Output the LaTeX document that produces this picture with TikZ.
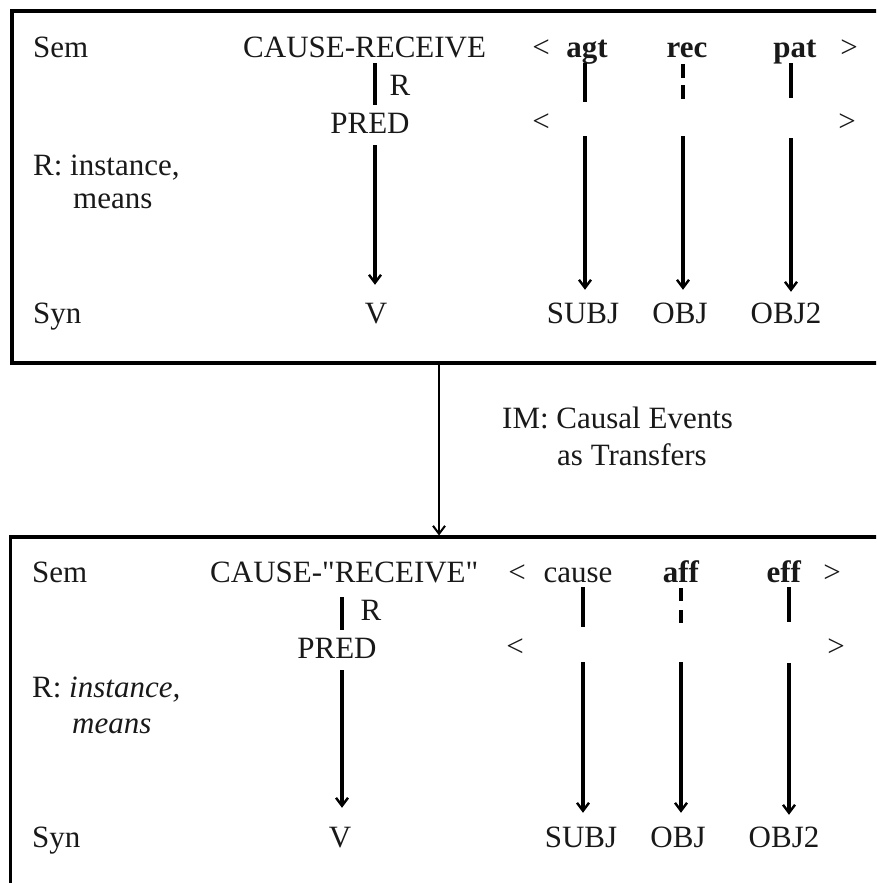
\documentclass[tikz,border=0pt]{standalone}
\usepackage{fontspec}
\setmainfont{Liberation Serif}
% same face without the TeX input mapping, so that " stays a straight quote
\newfontfamily\rawserif{Liberation Serif}[Ligatures=TeXOff]
\usetikzlibrary{arrows.meta}
\newcommand{\sq}{{\rawserif"}}
\begin{document}
\begin{tikzpicture}[x=1pt,y=-1pt,
  lbl/.style={inner sep=0pt, text height=21pt, text depth=0pt, anchor=base,
              font=\fontsize{31}{37}\selectfont, text=black!90},
  lblw/.style={lbl, anchor=base west},
  link/.style={line width=3.2pt},
  arr/.style={link, -{Straight Barb[length=8pt,width=12pt,line width=2.4pt]}},
  marr/.style={line width=2.6pt, -{Straight Barb[length=8pt,width=12pt,line width=2pt]}},
  frame/.style={draw, line width=3.5pt, outer sep=0pt, inner sep=0pt, anchor=north west}
]
\useasboundingbox (0,0) rectangle (876,883);
\clip (0,0) rectangle (876,883);

% ---------- upper frame: CAUSE-RECEIVE ----------
\node[frame, minimum width=880pt, minimum height=352pt] (box1) at (12,11) {};

\coordinate (cV)  at (375,0);
\coordinate (cA)  at (585,0);
\coordinate (cR)  at (683,0);
\coordinate (cP)  at (791,0);

\node[lblw] (sem1) at (33,58) {Sem};
\node[lblw] (crv1) at (243,58) {CAUSE-RECEIVE};
\node[lbl]  (lt1)  at (541,58) {<};
\node[lbl]  (agt)  at (587,58) {\textbf{agt}};
\node[lbl]  (rec)  at (687,58) {\textbf{rec}};
\node[lbl]  (pat)  at (795,58) {\textbf{pat}};
\node[lbl]  (gt1)  at (849,58) {>};
\node[lbl]  (r1)   at (400,95) {R};
\node[lbl]  (pred1) at (370,133) {PRED};
\node[lbl]  (lt2)  at (541,131) {<};
\node[lbl]  (gt2)  at (847,131) {>};
\node[lblw] (rr1)  at (33,175) {R: instance,};
\node[lblw] (mn1)  at (73,208) {means};
\node[lblw] (syn1) at (33,323) {Syn};
\node[lbl]  (v1)   at (376,323) {V};
\node[lbl]  (subj1) at (583,323) {SUBJ};
\node[lbl]  (obj1) at (680,323) {OBJ};
\node[lbl]  (objb1) at (786,323) {OBJ2};

\draw[link, shorten <=5pt, shorten >=7pt] (cV |- crv1.south) -- (cV |- pred1.north);
\draw[arr, shorten <=12pt, shorten >=17pt] (cV |- pred1.south) -- (cV |- v1.north);

\draw[link, shorten <=5pt, shorten >=8pt] (cA |- agt.south) -- (cA |- lt2.north);
\draw[arr, shorten <=5pt, shorten >=12pt] (cA |- lt2.south) -- (cA |- subj1.north);

\draw[link, dash pattern=on 14pt off 7pt, shorten <=6pt, shorten >=10pt] (cR |- rec.south) -- (cR |- lt2.north);
\draw[arr, shorten <=5pt, shorten >=12pt] (cR |- lt2.south) -- (cR |- obj1.north);

\draw[link, shorten <=5pt, shorten >=12pt] (cP |- pat.south) -- (cP |- lt2.north);
\draw[arr, shorten <=7pt, shorten >=10pt] (cP |- lt2.south) -- (cP |- objb1.north);

% ---------- mapping between the frames ----------
\coordinate (cM) at (439,0);
\node[frame, minimum width=880pt, minimum height=400pt] (box2) at (10.5,537) {};
\draw[marr, shorten >=1.5pt] (cM |- box1.south) -- (cM |- box2.north);
\node[lblw] (im1) at (502,428) {IM: Causal Events};
\node[lblw] (im2) at (557,465) {as Transfers};

% ---------- lower frame: CAUSE-"RECEIVE" ----------
\coordinate (dV) at (342,0);
\coordinate (dC) at (583,0);
\coordinate (dA) at (681,0);
\coordinate (dE) at (789,0);

\node[lblw] (sem2) at (32,582) {Sem};
\node[lblw] (crv2) at (210,582) {CAUSE-\sq RECEIVE\sq};
\node[lbl]  (lt3)  at (517,582) {<};
\node[lbl]  (cau)  at (578,582) {cause};
\node[lbl]  (aff)  at (681,582) {\textbf{aff}};
\node[lbl]  (eff)  at (784,582) {\textbf{eff}};
\node[lbl]  (gt3)  at (832,582) {>};
\node[lbl]  (r2)   at (371,620) {R};
\node[lbl]  (pred2) at (337,658) {PRED};
\node[lbl]  (lt4)  at (515,656) {<};
\node[lbl]  (gt4)  at (836,656) {>};
\node[lblw] (rr2)  at (32,697) {R: \textit{instance,}};
\node[lblw] (mn2)  at (72,733) {\textit{means}};
\node[lblw] (syn2) at (32,847) {Syn};
\node[lbl]  (v2)   at (340,847) {V};
\node[lbl]  (subj2) at (581,847) {SUBJ};
\node[lbl]  (obj2) at (678,847) {OBJ};
\node[lbl]  (objb2) at (784,847) {OBJ2};

\draw[link, shorten <=15pt, shorten >=7pt] (dV |- crv2.south) -- (dV |- pred2.north);
\draw[arr, shorten <=12pt, shorten >=18pt] (dV |- pred2.south) -- (dV |- v2.north);

\draw[link, shorten <=5pt, shorten >=8pt] (dC |- cau.south) -- (dC |- lt4.north);
\draw[arr, shorten <=6pt, shorten >=13pt] (dC |- lt4.south) -- (dC |- subj2.north);

\draw[link, dash pattern=on 13pt off 9pt, shorten <=6pt, shorten >=10pt] (dA |- aff.south) -- (dA |- lt4.north);
\draw[arr, shorten <=6pt, shorten >=13pt] (dA |- lt4.south) -- (dA |- obj2.north);

\draw[link, shorten <=5pt, shorten >=13pt] (dE |- eff.south) -- (dE |- lt4.north);
\draw[arr, shorten <=7pt, shorten >=11pt] (dE |- lt4.south) -- (dE |- objb2.north);
\end{tikzpicture}
\end{document}
